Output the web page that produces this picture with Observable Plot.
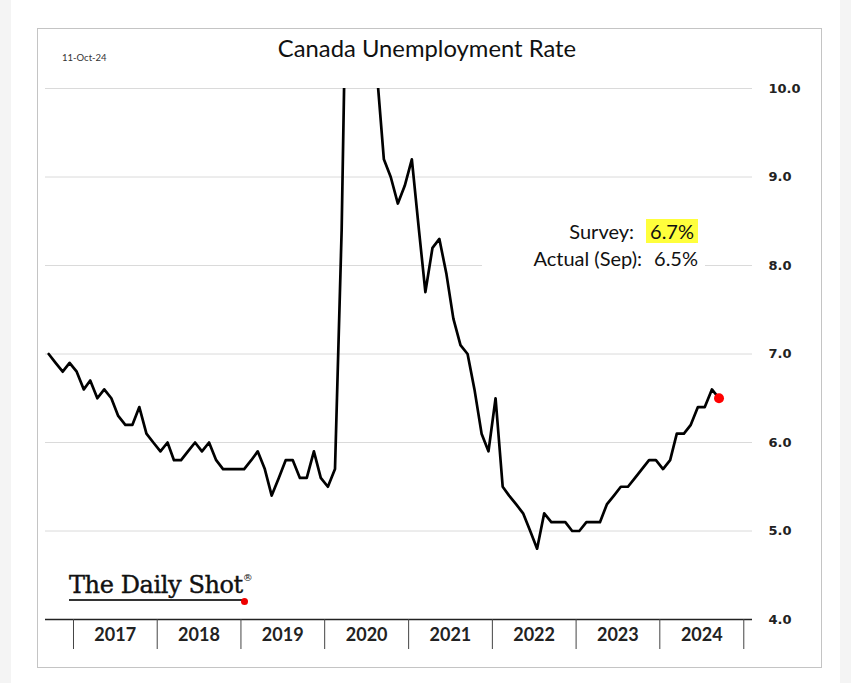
<!DOCTYPE html>
<html>
<head>
<meta charset="utf-8">
<script src="https://cdn.jsdelivr.net/npm/d3@7"></script>
<script src="https://cdn.jsdelivr.net/npm/@observablehq/plot@0.6"></script>
<style>
  html, body { margin: 0; padding: 0; background: #f4f4f4; }
  #wrap { position: relative; width: 851px; height: 683px; overflow: hidden; }
  #panel { position: absolute; left: 11px; top: 0; width: 829px; height: 683px; background: #fff; }
  #frame { position: absolute; left: 37px; top: 28px; width: 783px; height: 638px; border: 1.5px solid #c4c4c4; }
  #chart { position: absolute; left: 0; top: 0; }
  #title { position: absolute; left: 177px; width: 500px; top: 34px; text-align: center;
           font-family: Lato, "Open Sans", sans-serif; font-size: 23.8px; color: #111; }
  #date { position: absolute; left: 62px; top: 52px; font-family: Lato, sans-serif; font-size: 9.5px; color: #333; }
  #annot { position: absolute; left: 482px; top: 212px; width: 223px; height: 60px; background: #fff; }
  .aline { position: absolute; right: 7px; font-family: Lato, "Open Sans", sans-serif; font-size: 20px; color: #111; white-space: pre; line-height: 24px; }
  .val { margin-left: 12px; }
  .hl { background: #ffff3c; padding: 0px 4px; }
  #logo { position: absolute; left: 69px; top: 571px; font-family: "DejaVu Serif", serif; font-size: 24px; color: #111; letter-spacing: -0.4px; -webkit-text-stroke: 0.4px #111; }
  #logo .txt { border-bottom: 2px solid #333; padding-bottom: 0px; }
  #logo sup { font-size: 10px; vertical-align: 12px; -webkit-text-stroke: 0; }
  #logodot { position: absolute; left: 241px; top: 598px; width: 7px; height: 7px; border-radius: 50%; background: #e00; }
</style>
</head>
<body>
<div id="wrap">
  <div id="panel"></div>
  <div id="frame"></div>
  <div id="chart"></div>
  <div id="title"></div>
  <div id="date"></div>
  <div id="annot">
    <div class="aline" id="l1" style="top:7px"></div>
    <div class="aline" id="l2" style="top:34px"></div>
  </div>
  <div id="logo"><span class="txt">The Daily Shot</span><sup>®</sup></div>
  <div id="logodot"></div>
</div>
<script>
// ---- data ----
const titleText = "Canada Unemployment Rate";
const dateText = "11-Oct-24";
const startMonth = "2016-09"; // first monthly observation
const rates = [
  7.0, 6.9, 6.8, 6.9,                                           // 2016 Sep-Dec
  6.8, 6.6, 6.7, 6.5, 6.6, 6.5, 6.3, 6.2, 6.2, 6.4, 6.1, 6.0,   // 2017
  5.9, 6.0, 5.8, 5.8, 5.9, 6.0, 5.9, 6.0, 5.8, 5.7, 5.7, 5.7,   // 2018
  5.7, 5.8, 5.9, 5.7, 5.4, 5.6, 5.8, 5.8, 5.6, 5.6, 5.9, 5.6,   // 2019
  5.5, 5.7, 8.4, 13.1, 13.7, 12.5, 10.9, 10.2, 9.2, 9.0, 8.7, 8.9, // 2020
  9.2, 8.4, 7.7, 8.2, 8.3, 7.9, 7.4, 7.1, 7.0, 6.6, 6.1, 5.9,   // 2021
  6.5, 5.5, 5.4, 5.3, 5.2, 5.0, 4.8, 5.2, 5.1, 5.1, 5.1, 5.0,   // 2022
  5.0, 5.1, 5.1, 5.1, 5.3, 5.4, 5.5, 5.5, 5.6, 5.7, 5.8, 5.8,   // 2023
  5.7, 5.8, 6.1, 6.1, 6.2, 6.4, 6.4, 6.6, 6.5                   // 2024 Jan-Sep
];
const years = [2017, 2018, 2019, 2020, 2021, 2022, 2023, 2024];
const yTicks = [4, 5, 6, 7, 8, 9, 10];
const gridValues = [5, 6, 7, 8, 9, 10];
const surveyLabel = "Survey:";
const surveyValue = "6.7%";
const actualLabel = "Actual (Sep):";
const actualValue = "6.5%";

// ---- build ----
const start = d3.utcParse("%Y-%m")(startMonth);
const data = rates.map((v, i) => ({date: d3.utcDay.offset(d3.utcMonth.offset(start, i), 14), rate: v}));
const last = data[data.length - 1];
const yearStarts = years.map(y => new Date(Date.UTC(y, 0, 1))).concat([new Date(Date.UTC(years[years.length - 1] + 1, 0, 1))]);
const yearMids = years.map(y => new Date(Date.UTC(y, 6, 2)));

const chart = Plot.plot({
  width: 851,
  height: 683,
  marginTop: 88,
  marginBottom: 64,
  marginLeft: 45,
  marginRight: 99,
  style: {background: "transparent", color: "#222", overflow: "visible"},
  x: {type: "utc", domain: [new Date(Date.UTC(2016, 8, 1)), new Date(Date.UTC(2025, 1, 8))], label: null},
  y: {domain: [4, 10], label: null},
  marks: [
    Plot.ruleY(gridValues, {stroke: "#dadada", strokeWidth: 1}),
    Plot.line(data, {x: "date", y: "rate", stroke: "#000", strokeWidth: 2.7, strokeLinejoin: "round", clip: true}),
    Plot.ruleY([4], {stroke: "#222", strokeWidth: 1.3}),
    Plot.axisX({ticks: yearStarts, tickSize: 30, tickFormat: () => "", stroke: "#444", label: null}),
    Plot.axisX({ticks: yearMids, tickSize: 0, tickPadding: 9, tickFormat: d3.utcFormat("%Y"), label: null,
      fontFamily: "Lato", fontWeight: "bold", fontSize: 18, fill: "#222"}),
    Plot.axisY({anchor: "right", ticks: yTicks, tickSize: 0, tickPadding: 16, tickFormat: d3.format(".1f"), label: null,
      fontFamily: "DejaVu Sans", fontWeight: "bold", fontSize: 13, fill: "#222"}),
    Plot.dot([last], {x: "date", y: "rate", r: 5, fill: "#f00", stroke: "none"})
  ]
});
document.getElementById("chart").appendChild(chart);
document.getElementById("title").textContent = titleText;
document.getElementById("date").textContent = dateText;

function fillLine(el, label, value, highlight) {
  el.appendChild(document.createTextNode(label));
  const s = document.createElement("span");
  s.className = highlight ? "val hl" : "val";
  s.textContent = value;
  el.appendChild(s);
}
fillLine(document.getElementById("l1"), surveyLabel, surveyValue, true);
fillLine(document.getElementById("l2"), actualLabel, actualValue, false);
</script>
</body>
</html>
